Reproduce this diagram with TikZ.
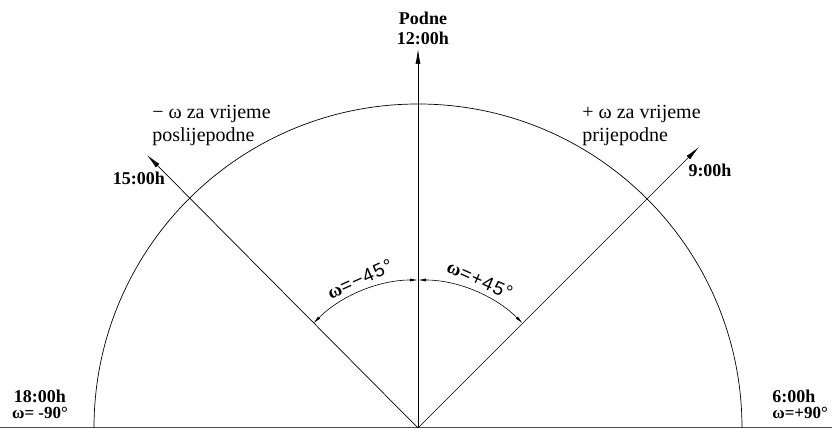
\documentclass[tikz,border=0pt]{standalone}
\usepackage{fontspec}
\setmainfont{Liberation Serif}
\newfontfamily\cadfont[LetterSpace=6]{Liberation Sans}
\usetikzlibrary{arrows.meta}

\newcommand{\omb}{{\rmfamily\bfseries ω}}

\begin{document}
\begin{tikzpicture}[x=1pt, y=1pt, line width=0.7pt,
    >={Latex[length=15pt,width=5pt]},
    hour/.style={font=\fontsize{18}{20}\selectfont\bfseries, align=center, inner sep=0pt},
    omline/.style={font=\fontsize{17}{15}\selectfont\bfseries, inner sep=0pt},
    note/.style={font=\fontsize{20}{23}\selectfont, align=left, inner sep=0pt},
    dimlbl/.style={font=\cadfont\fontsize{19}{19}\selectfont, inner sep=0pt},
    dim/.style={{Latex[length=8pt,width=3pt]}-{Latex[length=8pt,width=3pt]}, line width=0.6pt}]

    \useasboundingbox (-418,-2) rectangle (414,428);

    % 1. Tocke: centar O i vrhovi strelica
    \coordinate (O)  at (0, 0);
    \coordinate (W)  at (-418, 0);
    \coordinate (E)  at (414, 0);
    \coordinate (N)  at (0, 379);
    \coordinate (NW) at (-271, 273);
    \coordinate (NE) at (281, 281);

    % 2. Osnovna linija i polukrug
    \draw[gray!60!black, line width=1pt] (W) -- (E);
    \draw (324, 0) arc[start angle=0, end angle=180, radius=324];

    % 3. Satni pravci
    \draw[->] (O) -- (N);
    \draw[->] (O) -- (NW);
    \draw[->] (O) -- (NE);

    % 4. Kotni lukovi za omega
    \draw[dim] (135:148) arc[start angle=135, end angle=90, radius=148];
    \draw[dim] (90:148) arc[start angle=90, end angle=45, radius=148];
    \node[dimlbl, rotate=24] (wl) at (-58, 149) {\omb=−45°};
    \node[dimlbl, rotate=-24] (wr) at (62, 148) {\omb=+45°};

    % 5. Oznake sati
    \node[hour, anchor=south] (podne) at (5, 383) {Podne\\12:00h};
    \node[hour, anchor=base] (h15) at (-279, 243) {15:00h};
    \node[hour, anchor=base] (h9) at (292, 251) {9:00h};
    \node[hour, anchor=base] (h18) at (-378, 25) {18:00h};
    \node[omline, anchor=base] (w18) at (-378, 9) {ω= -90°};
    \node[hour, anchor=base west] (h6) at (354, 25) {6:00h};
    \node[omline, anchor=base west] (w6) at (354, 9) {ω=+90°};

    % 6. Tekst poslijepodne / prijepodne
    \node[note, anchor=south west] (pp) at (-266, 282) {− ω za vrijeme\\poslijepodne};
    \node[note, anchor=south west] (prp) at (164, 282) {+ ω za vrijeme\\prijepodne};

\end{tikzpicture}
\end{document}
